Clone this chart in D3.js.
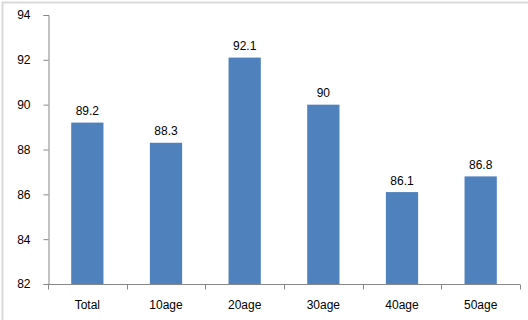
<!DOCTYPE html>
<html><head><meta charset="utf-8">
<script src="https://cdn.jsdelivr.net/npm/d3@7"></script>
<style>html,body{margin:0;padding:0;background:#fff;}svg{display:block;}</style>
</head><body>
<script>
const categories = ["Total","10age","20age","30age","40age","50age"];
const values = [89.2, 88.3, 92.1, 90, 86.1, 86.8];
const yTicks = [82,84,86,88,90,92,94];

const W = 528, H = 320;
const svg = d3.select("body").append("svg").attr("width", W).attr("height", H);
const font = "'Liberation Sans', Arial, sans-serif";

// outer frame (left & top visible)
svg.append("path").attr("d", `M2.5,${H} V2.5 H${W}`).attr("fill","none").attr("stroke","#d9d9d9").attr("stroke-width",2);

const x0 = 48, x1 = 520, yTop = 15, yBot = 284;
const x = d3.scaleBand().domain(categories).range([x0, x1]).paddingInner(0.59).paddingOuter(0.295);
const y = d3.scaleLinear().domain([82, 94]).range([yBot, yTop]);

svg.selectAll("rect.bar").data(values).enter().append("rect")
  .attr("x", (d,i) => x(categories[i]))
  .attr("y", d => y(d))
  .attr("width", x.bandwidth())
  .attr("height", d => y(82) - y(d))
  .attr("fill", "#4f81bd");

// y axis
const yAxis = d3.axisLeft(y).tickValues(yTicks).tickSize(5).tickPadding(13).tickFormat(d3.format("d"));
const gy = svg.append("g").attr("transform", `translate(${x0+0.5},0)`).call(yAxis);
gy.select(".domain").attr("stroke","#868686");
gy.selectAll(".tick line").attr("stroke","#868686");
gy.selectAll(".tick text").attr("font-family", font).attr("font-size", 12).attr("fill","#000");

// x axis with boundary ticks
const gx = svg.append("g").attr("transform", `translate(0,${yBot+0.5})`);
gx.append("line").attr("x1", x0).attr("x2", x1).attr("stroke","#868686");
const bounds = d3.range(categories.length + 1).map(i => x0 + i * (x1 - x0) / categories.length);
gx.selectAll("line.t").data(bounds).enter().append("line")
  .attr("x1", d => Math.round(d)+0.5).attr("x2", d => Math.round(d)+0.5)
  .attr("y1", 0).attr("y2", 5).attr("stroke","#868686");
gx.selectAll("text").data(categories).enter().append("text")
  .attr("x", d => x(d) + x.bandwidth()/2).attr("y", 24)
  .attr("text-anchor","middle").attr("font-family", font).attr("font-size", 12).attr("fill","#000")
  .text(d => d);

// value labels
svg.selectAll("text.val").data(values).enter().append("text")
  .attr("class","val")
  .attr("x", (d,i) => x(categories[i]) + x.bandwidth()/2)
  .attr("y", d => y(d) - 7.5)
  .attr("text-anchor","middle").attr("font-family", font).attr("font-size", 12).attr("fill","#000")
  .text(d => d);
</script>
</body></html>
